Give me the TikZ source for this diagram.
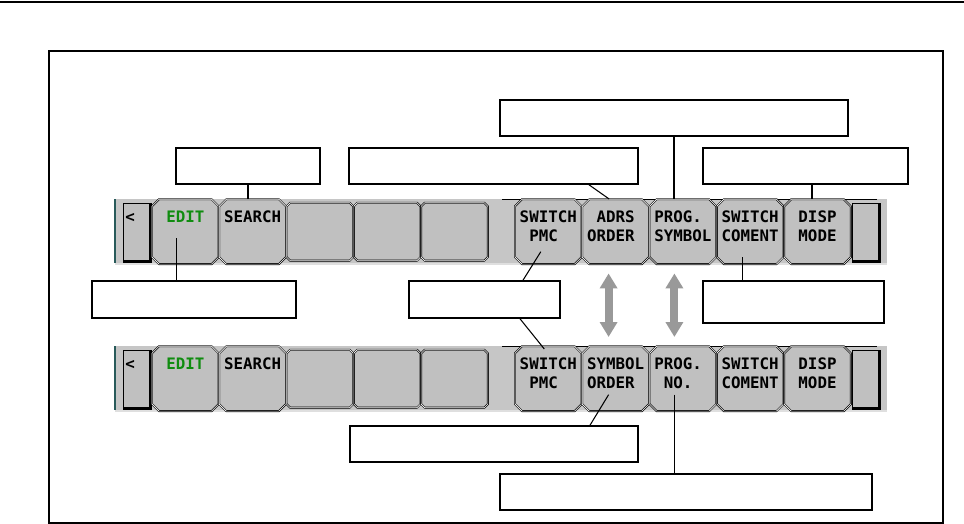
\documentclass[tikz,border=0pt]{standalone}
\usepackage{fontspec}
\usepackage{xcolor}
\usepackage{tikz}
\usetikzlibrary{positioning,arrows.meta,shapes.misc,calc}
\newfontfamily\skfam{DejaVu Sans Mono}
\definecolor{keygray}{RGB}{192,192,192}
\definecolor{bandgray}{RGB}{198,198,198}
\definecolor{editgreen}{RGB}{16,140,16}
\definecolor{arrowgray}{RGB}{153,153,153}
\definecolor{barteal}{RGB}{40,90,90}
\newcommand{\skfont}{\skfam\bfseries\fontsize{9}{10.8}\selectfont}
\newcommand{\kspc}{\hphantom{0}}
\newcommand{\skl}[2]{\vtop{\hbox{#1}\hbox{#2}}}
\newcommand{\sko}[1]{\vtop{\hbox{#1}}}

\begin{document}
\begin{tikzpicture}[x=0.02cm, y=-0.02cm, node distance=0pt,
  softkey/.style={chamfered rectangle, chamfered rectangle xsep=2pt, chamfered rectangle ysep=2pt,
    draw=black, line width=0.35pt, double=white, double distance=0.35pt, fill=keygray,
    minimum width=1.334cm, inner sep=0pt, text height=11.2pt, text depth=21.7pt, font=\skfont},
  endkey/.style={rectangle, draw=black, line width=0.4pt, fill=keygray, inner sep=0pt,
    minimum width=0.54cm, minimum height=1.16cm},
  lblbox/.style={rectangle, draw=black, line width=0.9pt, fill=white, minimum height=0.72cm},
  leader/.style={draw=black, line width=0.6pt},
  modearrow/.style={draw=arrowgray, line width=4.5pt,
    {Triangle[width=9.6pt,length=8.5pt]}-{Triangle[width=9.6pt,length=8.5pt]}}]
  \useasboundingbox (0,0) rectangle (964,524);
  \draw[line width=1.1pt] (0,2) -- (964,2);
  \draw[line width=0.75pt] (49,51) rectangle (943,523);

  % the two soft key rows
  \foreach \rw/\yo/\tg/\th in {u/0/{\skl{\kspc ADRS\kspc}{ORDER\kspc}}/{\skl{PROG.\kspc}{SYMBOL}},
      l/147/{\skl{SYMBOL}{ORDER\kspc}}/{\skl{PROG.\kspc}{\kspc NO.\kspc\kspc}}}{
    \begin{scope}[shift={(0,\yo)}]
      \fill[bandgray] (115,199) rectangle (887,263);
      \draw[gray!25, line width=1pt] (115,264) -- (887,264);
      \draw[barteal, line width=0.6pt] (115,199) -- (115,263);
      \draw[line width=0.5pt] (502,199.5) -- (877,199.5);
      \node[endkey, anchor=north west] (\rw kl) at (123,203) {};
      \draw[line width=1.7pt] (\rw kl.north east) -- (\rw kl.south east) -- (\rw kl.south west);
      \node[font=\skfont, anchor=base west, inner sep=0pt] (\rw klt) at ($(\rw kl.north west)+(2,19.7)$) {<};
      \node[softkey] (\rw k1) at (185.3,231.7) {\sko{\textcolor{editgreen}{\kspc EDIT\kspc}}};
      \node[softkey, right=of \rw k1] (\rw k2) {\sko{SEARCH}};
      \node[softkey, right=of \rw k2] (\rw k3) {};
      \node[softkey, right=of \rw k3] (\rw k4) {};
      \node[softkey, right=of \rw k4] (\rw k5) {};
      \node[softkey] (\rw k6) at (548.3,231.7) {\skl{SWITCH}{\kspc PMC\kspc\kspc}};
      \node[softkey, right=of \rw k6] (\rw k7) {\tg};
      \node[softkey, right=of \rw k7] (\rw k8) {\th};
      \node[softkey, right=of \rw k8] (\rw k9) {\skl{SWITCH}{COMENT}};
      \node[softkey, right=of \rw k9] (\rw k10) {\skl{\kspc DISP\kspc}{\kspc MODE\kspc}};
      \node[endkey, anchor=north west] (\rw kr) at (852,203) {};
      \draw[line width=1.7pt] (\rw kr.north east) -- (\rw kr.south east) -- (\rw kr.south west);
    \end{scope}
  }

  % empty callout boxes
  \node[lblbox, minimum width=6.96cm] (bTop) at (674,118) {};
  \node[lblbox, minimum width=2.88cm] (bSearch) at (248,166) {};
  \node[lblbox, minimum width=5.78cm] (bAdrs) at (493.5,166) {};
  \node[lblbox, minimum width=4.10cm] (bDisp) at (805.5,166) {};
  \node[lblbox, minimum width=4.08cm, minimum height=0.74cm] (bEdit) at (194,299.5) {};
  \node[lblbox, minimum width=3.02cm, minimum height=0.74cm] (bPmc) at (484.5,299.5) {};
  \node[lblbox, minimum width=3.62cm, minimum height=0.84cm] (bComent) at (793.5,302) {};
  \node[lblbox, minimum width=5.76cm] (bSymbol) at (494,444) {};
  \node[lblbox, minimum width=7.44cm] (bProgNo) at (686,492) {};

  % leader lines
  \coordinate (cDisp) at ($(bDisp.south)+(6.5,0)$);
  \coordinate (cEdit) at ($(uk1.center)+(-8.5,6.5)$);
  \coordinate (cComent) at ($(uk9.center)+(-8,25.5)$);
  \coordinate (cProgNo) at ($(lk8.center)+(-8.5,16)$);
  \draw[leader] (bTop.south) -- (bTop.south |- uk8.north);
  \draw[leader] (bSearch.south) -- (bSearch.south |- uk2.north);
  \draw[leader] ($(bAdrs.south)+(95.5,0)$) -- ($(uk7.north)+(-6.5,0)$);
  \draw[leader] (cDisp) -- (cDisp |- uk10.north);
  \draw[leader] (cEdit) -- (cEdit |- bEdit.north);
  \draw[leader] ($(uk6.center)+(-7.5,20)$) -- ($(bPmc.north)+(38.5,0)$);
  \draw[leader] (cComent) -- (cComent |- bComent.north);
  \draw[leader] ($(bPmc.south)+(35.5,0)$) -- ($(lk6.north)+(-4,3)$);
  \draw[leader] ($(lk7.center)+(-7,16)$) -- ($(bSymbol.north)+(96,0)$);
  \draw[leader] (cProgNo) -- (cProgNo |- bProgNo.north);

  % mode switch arrows
  \coordinate (mA1) at ($(uk7.south)+(-7,9)$);
  \coordinate (mB1) at ($(lk7.north)+(-7,-9)$);
  \coordinate (mA2) at ($(uk8.south)+(-8.5,9)$);
  \coordinate (mB2) at ($(lk8.north)+(-8.5,-9)$);
  \draw[modearrow] (mA1) -- (mB1);
  \draw[modearrow] (mA2) -- (mB2);
\end{tikzpicture}
\end{document}
